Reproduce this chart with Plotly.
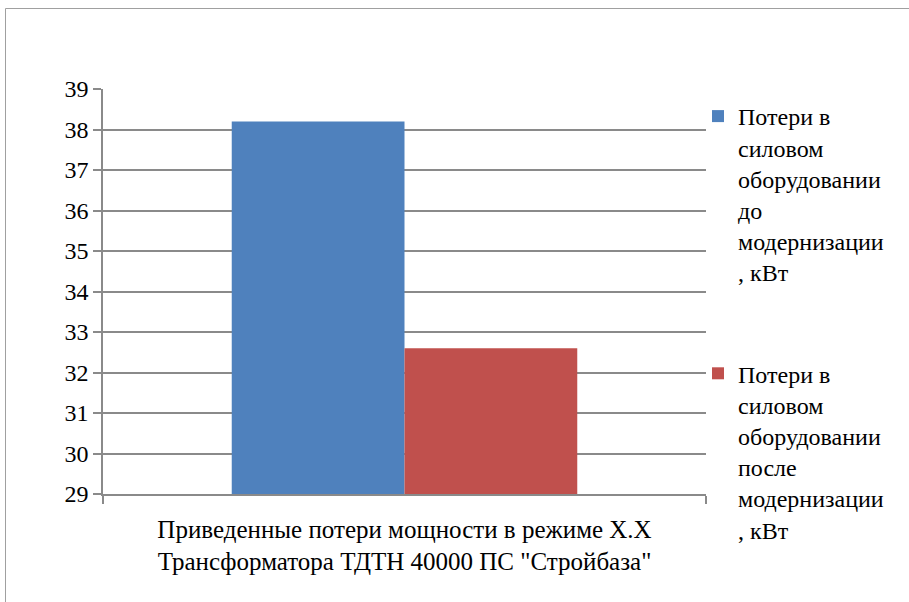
import plotly.graph_objects as go

# Data
categories = ['Приведенные потери мощности в режиме Х.Х<br>Трансформатора ТДТН 40000 ПС "Стройбаза"']
series_names = [
    "Потери в<br>силовом<br>оборудовании<br>до<br>модернизации<br>, кВт",
    "Потери в<br>силовом<br>оборудовании<br>после<br>модернизации<br>, кВт",
]
series_values = [[38.2], [32.6]]
series_colors = ["#4F81BD", "#C0504D"]

FONT = "Times New Roman, Liberation Serif, Tinos, serif"
FS = 24
GRID = "#8a8a8a"

fig = go.Figure()
for i, (name, vals, col) in enumerate(zip(series_names, series_values, series_colors)):
    fig.add_trace(go.Bar(
        x=categories, y=vals, name=name, marker=dict(color=col, line=dict(width=0)),
        legendgroup=f"g{i}",
    ))

W, H = 909, 602
L, R, T, B = 103, 203, 89, 108
pw, ph = W - L - R, H - T - B

def px_x(px):
    return (px - L) / pw

def px_y(py):
    return (H - B - py) / ph

fig.update_layout(
    width=W, height=H,
    margin=dict(l=L, r=R, t=T, b=B),
    paper_bgcolor="white", plot_bgcolor="white",
    font=dict(family=FONT, size=FS, color="black"),
    barmode="group", bargap=0.427, bargroupgap=0,
    showlegend=True,
    legend=dict(
        x=px_x(698), y=px_y(94), xanchor="left", yanchor="top",
        valign="top", tracegroupgap=67, bgcolor="rgba(0,0,0,0)",
        font=dict(family=FONT, size=FS, color="black"),
        itemwidth=30, maxheight=600,
    ),
    xaxis=dict(
        showline=True, linecolor=GRID, linewidth=1.5,
        ticks="outside", tickson="boundaries", ticklen=8, tickcolor=GRID, tickwidth=1.5,
        tickfont=dict(family=FONT, size=FS + 1, color="black"),
        ticklabelstandoff=12,
        showgrid=False, fixedrange=True,
    ),
    yaxis=dict(
        range=[29, 39], dtick=1, tick0=29,
        showline=True, linecolor=GRID, linewidth=1.5,
        ticks="outside", ticklen=8, tickcolor=GRID, tickwidth=1.5,
        showgrid=True, gridcolor=GRID, gridwidth=1.5,
        zeroline=False,
        tickfont=dict(family=FONT, size=FS, color="black"),
        fixedrange=True,
    ),
    shapes=[dict(
        type="rect", xref="paper", yref="paper",
        x0=px_x(5.5), x1=px_x(1000), y0=px_y(700), y1=px_y(8.5),
        line=dict(color="#a0a0a0", width=1), fillcolor="rgba(0,0,0,0)", layer="below",
    )],
)

fig.write_html("out.html")
